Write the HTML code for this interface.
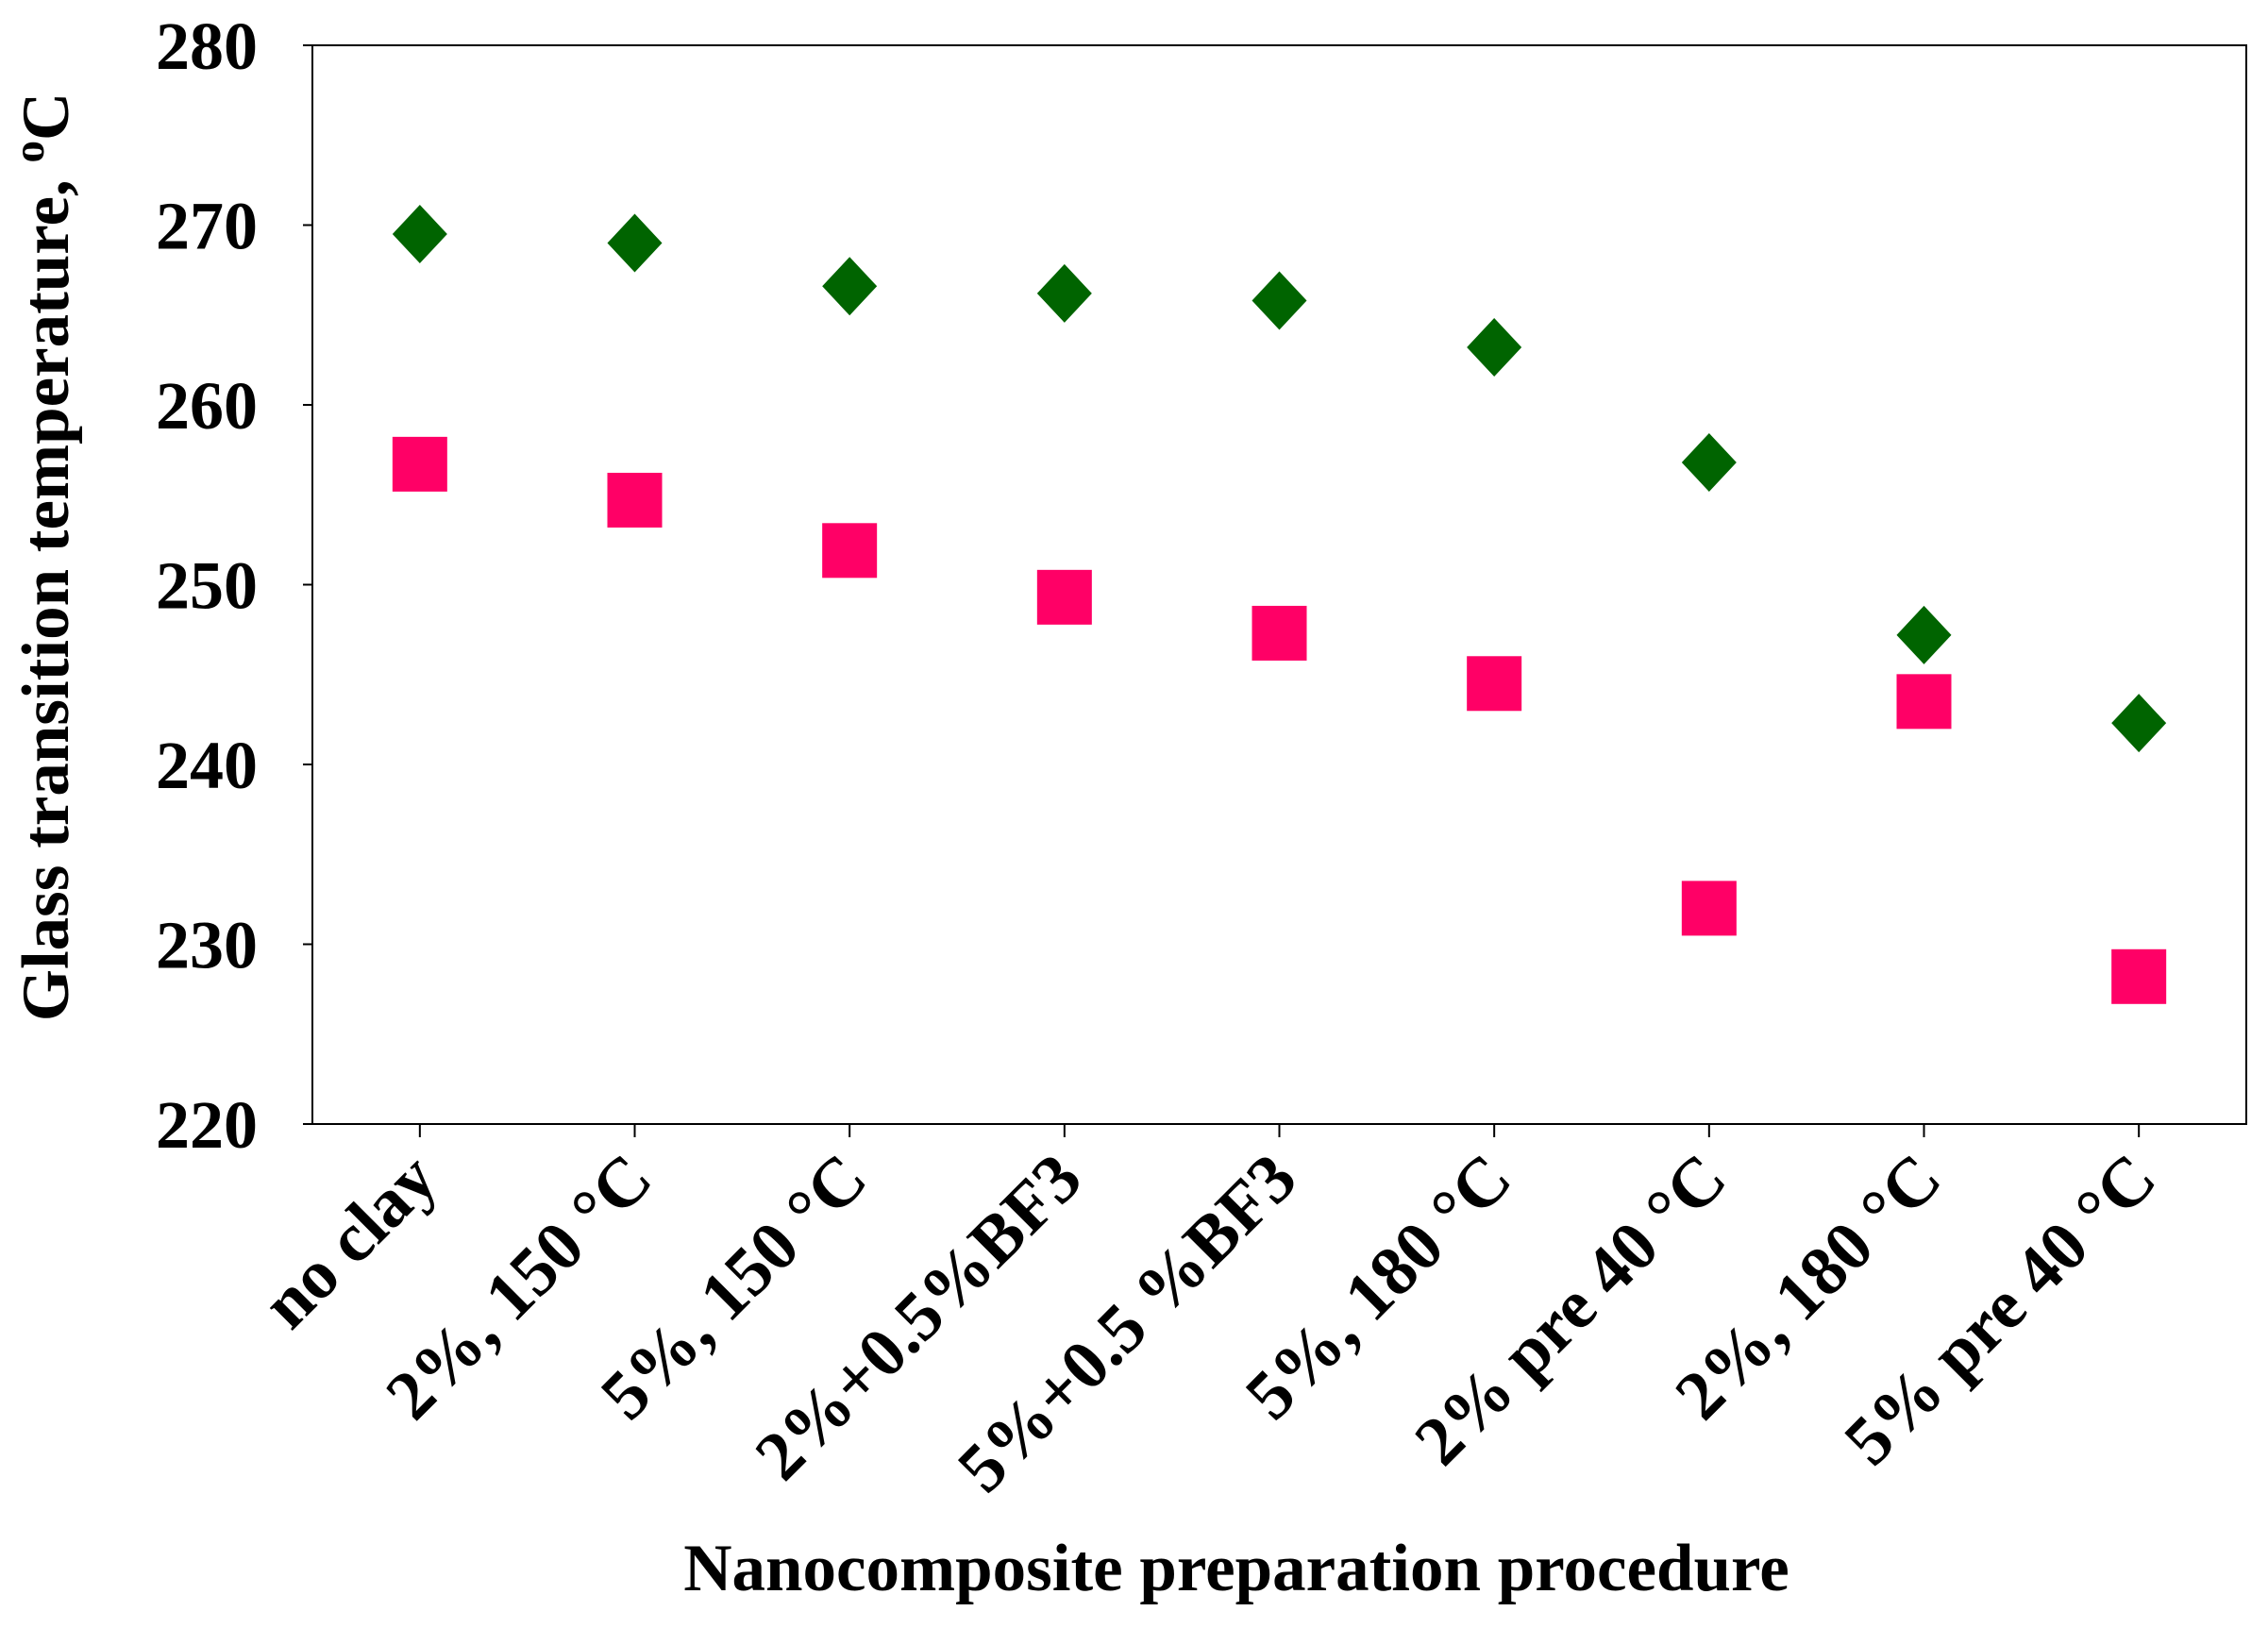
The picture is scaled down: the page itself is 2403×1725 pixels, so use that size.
<!DOCTYPE html>
<html><head><meta charset="utf-8"><style>
html,body{margin:0;padding:0;background:#fff;}
svg text{font-family:"Liberation Serif",serif;font-weight:bold;fill:#000;}
</style></head><body>
<svg id="chart" width="2403" height="1720" xmlns="http://www.w3.org/2000/svg">
<g id="axes"></g>
<g id="marks"></g>
<text transform="translate(72,590) rotate(-90)" text-anchor="middle" font-size="71">Glass transition temperature, <tspan font-size="47" dy="-26">o</tspan><tspan dy="26">C</tspan></text>
<text x="1310" y="1685" text-anchor="middle" font-size="71">Nanocomposite preparation procedure</text>
</svg>
<script>
const categories = ["no clay","2%, 150 \u00B0C","5%, 150 \u00B0C","2%+0.5%BF3","5%+0.5 %BF3","5%, 180 \u00B0C","2% pre 40 \u00B0C","2%, 180 \u00B0C","5% pre 40 \u00B0C"];
const diamondValues = [269.5,269.0,266.6,266.2,265.8,263.2,256.8,247.2,242.3];
const squareValues = [256.7,254.7,251.9,249.3,247.3,244.5,232.0,243.5,228.2];
const yTicks = [220,230,240,250,260,270,280];

const L=331,R=2380,T=48,B=1191,yMin=220,yMax=280;
const NS="http://www.w3.org/2000/svg";
const band=(R-L)/categories.length;
function xPos(i){return L+band*(i+0.5);}
function yPos(v){return B-(v-yMin)/(yMax-yMin)*(B-T);}
function mk(tag,attrs,parent){const e=document.createElementNS(NS,tag);for(const k in attrs)e.setAttribute(k,attrs[k]);parent.appendChild(e);return e;}
const axes=document.getElementById('axes'), marks=document.getElementById('marks');

let frame=mk('rect',{x:L,y:T,width:R-L,height:B-T,fill:'none',stroke:'#000','stroke-width':2},axes);



yTicks.forEach(v=>{
  const y=yPos(v);
  let t=mk('line',{x1:L-10,x2:L,y1:y,y2:y,stroke:'#000','stroke-width':2},axes);
  
  
  let lb=mk('text',{x:273,y:y+25,'text-anchor':'end','font-size':72},axes);
  lb.textContent=v;
  
  
});

categories.forEach((c,i)=>{
  const x=xPos(i);
  let t=mk('line',{x1:x,x2:x,y1:B,y2:B+14,stroke:'#000','stroke-width':2},axes);
  
  
  let lb=mk('text',{transform:`translate(${x+22},${B+62}) rotate(-45)`,'text-anchor':'end','font-size':74},axes);
  lb.textContent=c;
  
  
});

diamondValues.forEach((v,i)=>{
  const x=xPos(i),y=yPos(v);
  let d=mk('polygon',{points:`${x},${y-31} ${x+29},${y} ${x},${y+31} ${x-29},${y}`,fill:'#006400'},marks);
  
  
});
squareValues.forEach((v,i)=>{
  const x=xPos(i),y=yPos(v);
  let s=mk('rect',{x:x-29,y:y-29,width:58,height:58,fill:'#FF0066'},marks);
  
  
});
</script>
</body></html>
